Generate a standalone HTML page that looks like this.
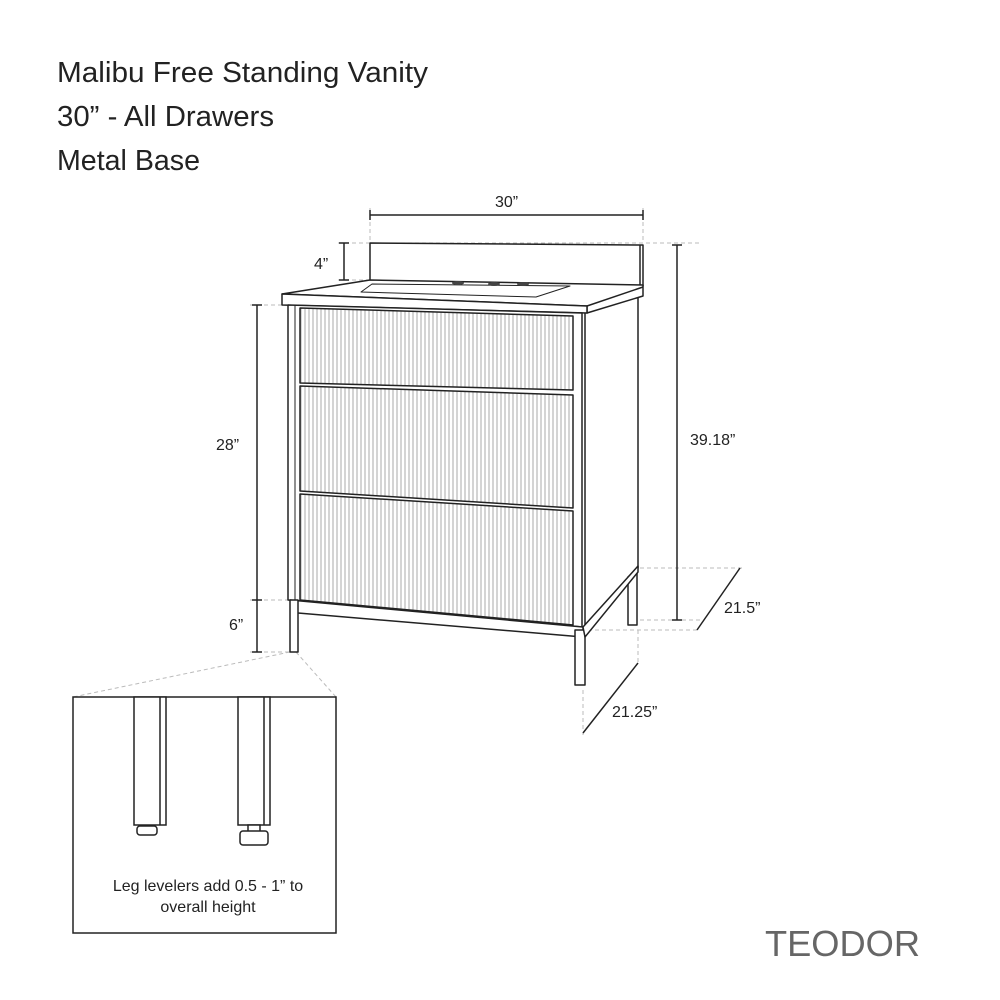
<!DOCTYPE html>
<html><head><style>
html,body{margin:0;padding:0;background:#fff;}
svg{display:block}
text{font-family:"Liberation Sans",sans-serif;fill:#222}
</style></head><body>
<svg width="1000" height="1000" viewBox="0 0 1000 1000" xmlns="http://www.w3.org/2000/svg">
<defs>
<pattern id="fl" width="4" height="10" patternUnits="userSpaceOnUse">
<rect width="4" height="10" fill="#fff"/>
<line x1="1" y1="0" x2="1" y2="10" stroke="#aaa" stroke-width="1"/>
</pattern>
</defs>
<text x="57" y="82" font-size="29" textLength="371" lengthAdjust="spacingAndGlyphs">Malibu Free Standing Vanity</text>
<text x="57" y="126" font-size="29" textLength="217" lengthAdjust="spacingAndGlyphs">30” - All Drawers</text>
<text x="57" y="170" font-size="29" textLength="143" lengthAdjust="spacingAndGlyphs">Metal Base</text>
<text x="765" y="956" font-size="36" style="fill:#666" textLength="155" lengthAdjust="spacingAndGlyphs">TEODOR</text>

<g stroke="#bbb" stroke-width="1" stroke-dasharray="4,3" fill="none">
<line x1="370" y1="208" x2="370" y2="240"/>
<line x1="643" y1="208" x2="643" y2="240"/>
<line x1="338" y1="243" x2="700" y2="243"/>
<line x1="338" y1="280" x2="368" y2="280"/>
<line x1="250" y1="305" x2="282" y2="305"/>
<line x1="250" y1="600" x2="288" y2="600"/>
<line x1="250" y1="652" x2="290" y2="652"/>
<line x1="640" y1="568" x2="745" y2="568"/>
<line x1="640" y1="620" x2="700" y2="620"/>
<line x1="588" y1="630" x2="700" y2="630"/>
<line x1="638" y1="630" x2="638" y2="665"/>
<line x1="583" y1="690" x2="583" y2="735"/>
<line x1="290" y1="652" x2="73" y2="697"/>
<line x1="296" y1="652" x2="336" y2="697"/>
</g>

<g stroke="#222" stroke-width="1.5" fill="none">
<line x1="370" y1="215" x2="643" y2="215"/><line x1="370" y1="210" x2="370" y2="220"/><line x1="643" y1="210" x2="643" y2="220"/>
<line x1="344" y1="243" x2="344" y2="280"/><line x1="339" y1="243" x2="349" y2="243"/><line x1="339" y1="280" x2="349" y2="280"/>
<line x1="257" y1="305" x2="257" y2="600"/><line x1="252" y1="305" x2="262" y2="305"/><line x1="252" y1="600" x2="262" y2="600"/>
<line x1="257" y1="600" x2="257" y2="652"/><line x1="252" y1="652" x2="262" y2="652"/>
<line x1="677" y1="245" x2="677" y2="620"/><line x1="672" y1="245" x2="682" y2="245"/><line x1="672" y1="620" x2="682" y2="620"/>
<line x1="697" y1="630" x2="740" y2="568"/>
<line x1="583" y1="733" x2="638" y2="663"/>
</g>
<text x="495" y="207" font-size="16">30”</text>
<text x="314" y="269" font-size="16">4”</text>
<text x="216" y="450" font-size="16">28”</text>
<text x="229" y="630" font-size="16">6”</text>
<text x="690" y="445" font-size="16">39.18”</text>
<text x="724" y="613" font-size="16">21.5”</text>
<text x="612" y="717" font-size="16">21.25”</text>

<g stroke="#222" stroke-width="1.5" fill="#fff" stroke-linejoin="round">
<polygon points="370,243 643,245 643,286 370,281"/>
<line x1="640" y1="245" x2="640" y2="286"/>
<polygon points="585,313 638,296 638,568 585,627"/>
<line x1="581" y1="313" x2="581" y2="627" stroke-width="1"/>
<polygon points="282,294 370,280 643,285 643,296 587,313 587,306 282,294"/>
<polygon points="282,294 587,306 587,313 282,305"/>
<line x1="587" y1="306" x2="643" y2="287"/>
<polygon points="361,292 372,284 570,286 536,297" stroke-width="1"/>
<ellipse cx="458" cy="283" rx="6" ry="2" fill="#444" stroke="none"/>
<ellipse cx="494" cy="284" rx="6" ry="2" fill="#444" stroke="none"/>
<ellipse cx="523" cy="284" rx="6" ry="2" fill="#444" stroke="none"/>
<polygon points="288,305 582,313 582,627 288,600"/>
<line x1="295" y1="305" x2="295" y2="602" stroke-width="1"/>
<polygon points="300,308 573,316 573,390 300,383" fill="url(#fl)"/>
<polygon points="300,386 573,395 573,508 300,491" fill="url(#fl)"/>
<polygon points="300,494 573,511 573,625 300,600" fill="url(#fl)"/>
<polygon points="290,600 583,627 583,637 298,613"/>
<polygon points="290,600 298,600 298,652 290,652"/>
<polygon points="575,630 585,630 585,685 575,685"/>
<polygon points="628,577 637,570 637,625 628,625"/>
<polygon points="583,627 638,566 638,572 585,637"/>
</g>

<rect x="73" y="697" width="263" height="236" fill="#fff" stroke="#222" stroke-width="1.5"/>
<g stroke="#222" stroke-width="1.5" fill="#fff">
<rect x="134" y="697" width="32" height="128"/>
<line x1="160" y1="697" x2="160" y2="825"/>
<rect x="238" y="697" width="32" height="128"/>
<line x1="264" y1="697" x2="264" y2="825"/>
<rect x="137" y="826" width="20" height="9" rx="3"/>
<rect x="248" y="825" width="12" height="7"/>
<rect x="240" y="831" width="28" height="14" rx="3"/>
</g>
<text x="208" y="891" font-size="16" text-anchor="middle">Leg levelers add 0.5 - 1” to</text>
<text x="208" y="912" font-size="16" text-anchor="middle">overall height</text>
</svg>
</body></html>
